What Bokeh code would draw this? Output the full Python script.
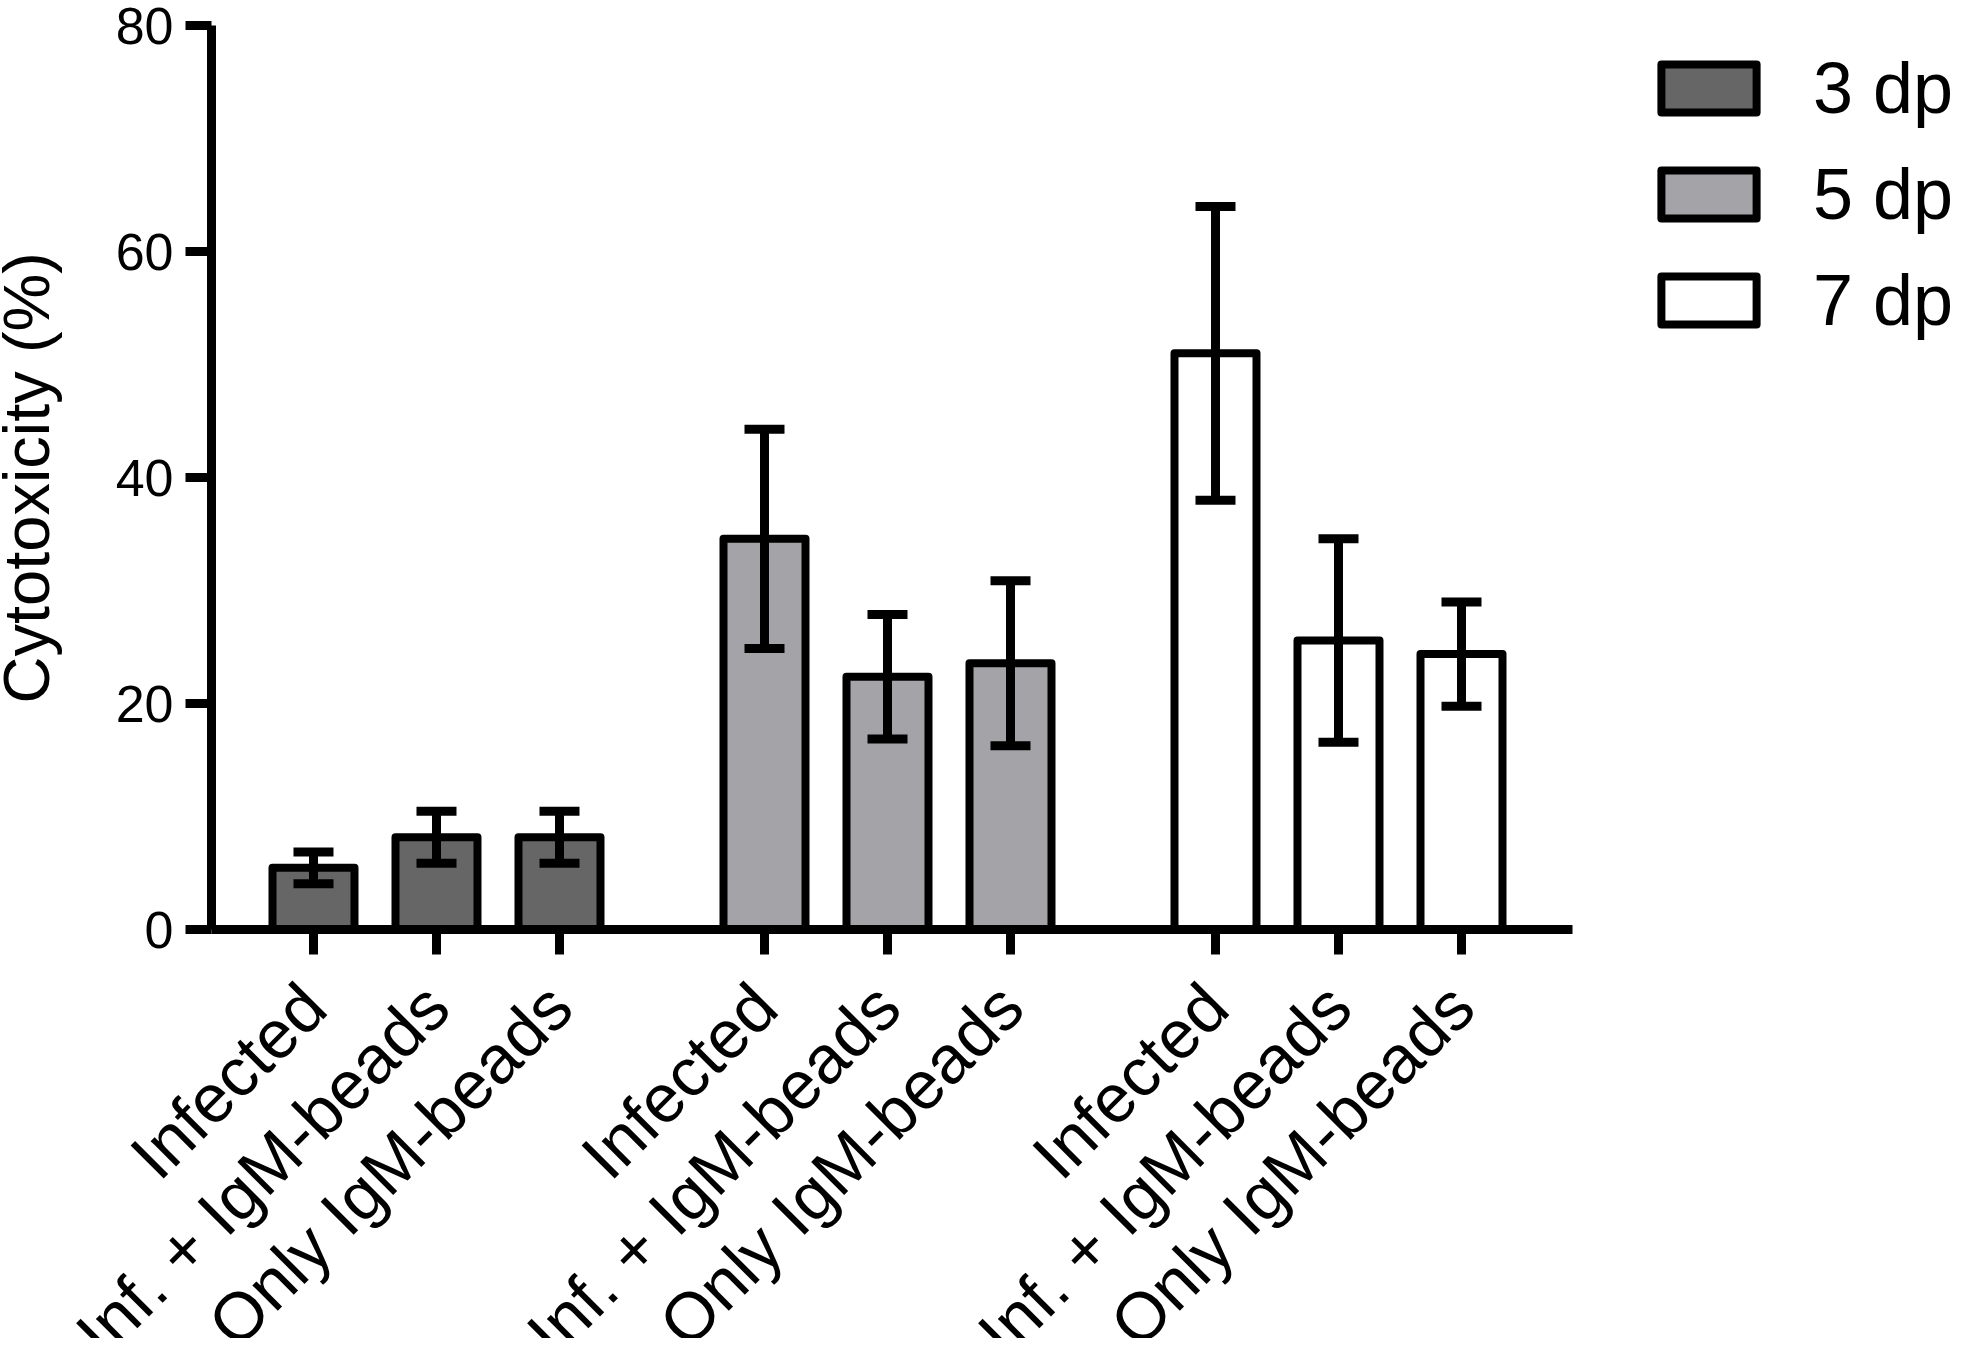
import math
from bokeh.plotting import figure
from bokeh.models import (ColumnDataSource, Range1d, FixedTicker, Whisker, TeeHead,
                          Legend, LegendItem, Label)
from bokeh.embed import file_html
from bokeh.resources import INLINE

# ---- data ----
groups = ["3 dpi", "5 dpi", "7 dpi"]
conditions = ["Infected", "Inf. + IgM-beads", "Only IgM-beads"]
means_3dpi = [5.5, 8.2, 8.2]
sem_3dpi = [1.4, 2.3, 2.3]
means_5dpi = [34.6, 22.4, 23.6]
sem_5dpi = [9.7, 5.5, 7.3]
means_7dpi = [51.0, 25.6, 24.4]
sem_7dpi = [13.0, 9.0, 4.6]
y_ticks = [0, 20, 40, 60, 80]
y_title = "Cytotoxicity (%)"
fill_colors = ["#666666", "#a4a4a8", "#ffffff"]

FONT = "Liberation Sans"
BAR_STEP = 3
GROUP_STEP = 11
X_AXIS_START = -2.488
X_AXIS_END = 30.707

means = [means_3dpi, means_5dpi, means_7dpi]
sems = [sem_3dpi, sem_5dpi, sem_7dpi]

# The frame covers the whole figure; both axes are pinned inside it so the
# long rotated category labels can run past the y axis as in the original.
p = figure(width=1953, height=1338,
           x_range=Range1d(-7.634, 40.0), y_range=Range1d(-36.13, 82.21),
           output_backend="svg", toolbar_location=None,
           min_border_left=0, min_border_right=0,
           min_border_top=0, min_border_bottom=0)

all_x = []
all_labels = []
legend_items = []
for g, (name, m, s, col) in enumerate(zip(groups, means, sems, fill_colors)):
    xs = [g * GROUP_STEP + j * BAR_STEP for j in range(len(conditions))]
    src = ColumnDataSource(dict(
        x=xs, top=m,
        upper=[a + b for a, b in zip(m, s)],
        lower=[a - b for a, b in zip(m, s)],
    ))
    r = p.vbar(x="x", top="top", bottom=0, width=2.0, source=src,
               fill_color=col, line_color="black", line_width=8,
               line_join="round")
    legend_items.append(LegendItem(label=name, renderers=[r]))
    w = Whisker(source=src, base="x", upper="upper", lower="lower",
                line_color="black", line_width=9, level="annotation",
                upper_head=TeeHead(size=40, line_width=9, line_color="black"),
                lower_head=TeeHead(size=40, line_width=9, line_color="black"))
    p.add_layout(w)
    all_x.extend(xs)
    all_labels.extend(conditions)

legend = Legend(items=legend_items, location=(1649, 997),
                glyph_width=119, glyph_height=60, label_height=60,
                label_standoff=45, spacing=24, padding=0, margin=0,
                border_line_color=None, background_fill_alpha=0,
                label_text_font_size="72px", label_text_font=FONT,
                label_text_color="black")
p.add_layout(legend)

# x axis, pinned at y = 0
xa = p.xaxis[0]
xa.fixed_location = 0
xa.bounds = (X_AXIS_START, X_AXIS_END)
xa.ticker = FixedTicker(ticks=all_x)
xa.major_label_overrides = {x: lab for x, lab in zip(all_x, all_labels)}
xa.major_label_orientation = math.pi / 4
xa.major_label_standoff = 40
xa.major_label_text_font_size = "68px"
xa.major_label_text_font = FONT
xa.major_label_text_color = "black"
xa.major_tick_out = 25
xa.major_tick_in = 0
xa.minor_tick_line_color = None
xa.axis_line_width = 9
xa.major_tick_line_width = 9

# y axis, pinned at the left end of the x axis
ya = p.yaxis[0]
ya.fixed_location = X_AXIS_START
ya.bounds = (y_ticks[0], y_ticks[-1])
ya.ticker = FixedTicker(ticks=y_ticks)
ya.major_tick_out = 26
ya.major_tick_in = 0
ya.minor_tick_line_color = None
ya.axis_line_width = 9
ya.major_tick_line_width = 9
ya.major_label_text_font_size = "52px"
ya.major_label_text_font = FONT
ya.major_label_text_color = "black"
ya.major_label_standoff = 12

title = Label(x=X_AXIS_START, y=(y_ticks[0] + y_ticks[-1]) / 2, text=y_title,
              angle=math.pi / 2, text_align="center",
              text_baseline="alphabetic", x_offset=-185,
              text_font_size="65px", text_font=FONT, text_color="black")
p.add_layout(title)

p.grid.visible = False
p.outline_line_color = None
p.background_fill_color = "white"
p.border_fill_color = "white"

open("out.html", "w").write(file_html(p, INLINE))
